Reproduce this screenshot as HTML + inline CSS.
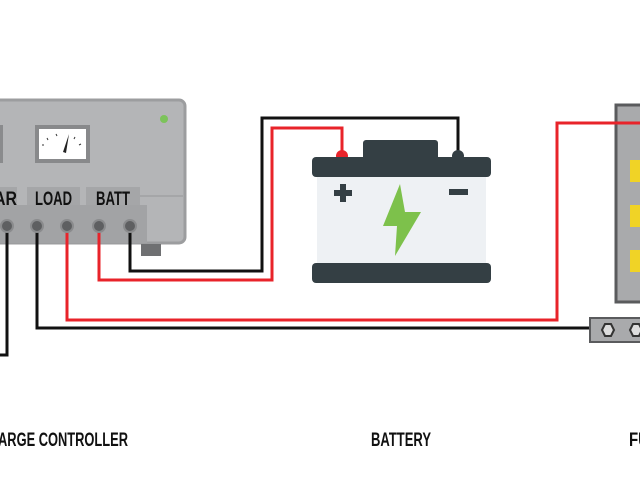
<!DOCTYPE html>
<html><head><style>
html,body{margin:0;padding:0;background:#fff;width:640px;height:480px;overflow:hidden}
svg{display:block}
text{font-family:"Liberation Sans Narrow","Liberation Sans",sans-serif;font-weight:bold;fill:#111}
</style></head><body>
<svg width="640" height="480" viewBox="0 0 640 480">
<rect x="-10" y="100" width="195" height="143" rx="6" fill="#b4b5b7"/>
<rect x="-10" y="100" width="195" height="143" rx="6" fill="none" stroke="#9c9d9f" stroke-width="3"/>
<rect x="-10" y="125" width="13" height="38" fill="#8a8b8d"/>
<circle cx="164" cy="119" r="4" fill="#7cc35a"/>
<rect x="35" y="125" width="55" height="38" fill="#88898b"/>
<rect x="39" y="129" width="47" height="30" fill="#fff"/>
<path d="M63,152 L69,134 L66,153 Z" fill="#222"/>
<g stroke="#333" stroke-width="1"><line x1="42" y1="145" x2="44" y2="145"/><line x1="47" y1="138" x2="48" y2="140"/><line x1="56" y1="134" x2="57" y2="136"/><line x1="75" y1="137" x2="74" y2="139"/><line x1="81" y1="144" x2="79" y2="145"/></g>
<line x1="140" y1="196" x2="183" y2="196" stroke="#a5a6a8" stroke-width="2"/>
<rect x="-5" y="187" width="22" height="20" fill="#a5a6a8"/>
<rect x="27" y="187" width="53" height="20" fill="#a5a6a8"/>
<rect x="86" y="187" width="54" height="20" fill="#a5a6a8"/>
<text x="-6" y="205" font-size="19" textLength="23" lengthAdjust="spacingAndGlyphs">AR</text>
<text x="35" y="205" font-size="19" textLength="37" lengthAdjust="spacingAndGlyphs">LOAD</text>
<text x="96" y="205" font-size="19" textLength="34" lengthAdjust="spacingAndGlyphs">BATT</text>
<rect x="-5" y="205" width="152" height="38" fill="#a2a3a5"/>
<rect x="141" y="244" width="20" height="12" fill="#6f7072"/>
<g fill="none" stroke-width="3">
<polyline points="7,226 7,355 0,355" stroke="#111"/>
<polyline points="37,226 37,328 600,328" stroke="#111"/>
<polyline points="67,226 67,320 557,320 557,123 640,123" stroke="#e8232a"/>
<polyline points="99,226 99,280 272,280 272,128 342,128 342,152" stroke="#e8232a"/>
<polyline points="130,226 130,271 262,271 262,118 458,118 458,152" stroke="#111"/>
</g>
<g fill="#5e5f61" stroke="#8a8b8d" stroke-width="2"><circle cx="7" cy="226" r="6"/><circle cx="37" cy="226" r="6"/><circle cx="67" cy="226" r="6"/><circle cx="99" cy="226" r="6"/><circle cx="130" cy="226" r="6"/></g>
<rect x="363" y="140" width="75" height="20" rx="3" fill="#343f44"/>
<circle cx="342" cy="156" r="6" fill="#e8232a"/>
<circle cx="458" cy="156" r="6" fill="#343f44"/>
<rect x="317" y="175" width="169" height="92" fill="#eef1f4"/>
<rect x="312" y="157" width="179" height="20" rx="4" fill="#343f44"/>
<rect x="312" y="263" width="179" height="20" rx="4" fill="#343f44"/>
<path d="M340,184h6v6h6v6h-6v6h-6v-6h-6v-6h6z" fill="#343f44"/>
<rect x="449" y="189" width="19" height="6" fill="#343f44"/>
<path d="M400,184 L383,226 L397,226 L395,256 L421,212 L405,212 Z" fill="#7dc14b"/>
<rect x="616" y="105" width="30" height="197" fill="#a9aaac" stroke="#5a5b5d" stroke-width="3"/>
<g fill="#f0d326"><rect x="630" y="160" width="12" height="22"/><rect x="630" y="205" width="12" height="22"/><rect x="630" y="250" width="12" height="22"/></g>
<polyline points="557,123 640,123" stroke="#e8232a" stroke-width="3" fill="none"/>
<rect x="590" y="318" width="55" height="24" fill="#a9aaac" stroke="#5a5b5d" stroke-width="2"/>
<polygon points="602,330 605,324 611,324 614,330 611,336 605,336" fill="#ddd" stroke="#333" stroke-width="2"/>
<polygon points="630,330 633,324 639,324 642,330 639,336 633,336" fill="#ddd" stroke="#333" stroke-width="2"/>
<text x="-2" y="446" font-size="19" textLength="130" lengthAdjust="spacingAndGlyphs">ARGE CONTROLLER</text>
<text x="371" y="446" font-size="19" textLength="60" lengthAdjust="spacingAndGlyphs">BATTERY</text>
<text x="629" y="446" font-size="19" textLength="20" lengthAdjust="spacingAndGlyphs">FU</text>
</svg>
</body></html>
